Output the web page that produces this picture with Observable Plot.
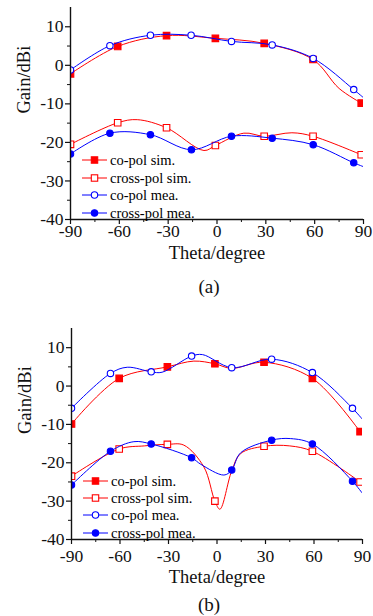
<!DOCTYPE html>
<html><head><meta charset="utf-8">
<script src="https://cdn.jsdelivr.net/npm/d3@7"></script>
<script src="https://cdn.jsdelivr.net/npm/@observablehq/plot@0.6"></script>
<style>
body{margin:0;background:#fff;}
#wrap{position:relative;width:373px;height:616px;font-family:"Liberation Serif","Times New Roman",serif;overflow:hidden;}
.panel{position:absolute;left:0;}
.legend{position:absolute;font-size:14.5px;color:#000;}
.legend .row{position:absolute;left:0;white-space:nowrap;height:16px;line-height:16px;display:flex;align-items:center;}
.legend svg{display:block;flex:none;}
.legend span{margin-left:3px;}
</style></head><body><div id="wrap"></div>
<script>
// ---- shared labels / ticks ----
const xTicks = [-90, -60, -30, 0, 30, 60, 90];
const xMinor = [-75, -45, -15, 15, 45, 75];
const yTicks = [10, 0, -10, -20, -30, -40];
const yMinor = [5, -5, -15, -25, -35];
const xDomain = [-90, 90];
const yDomain = [-40, 15];
const seriesNames = ["co-pol sim.", "cross-pol sim.", "co-pol mea.", "cross-pol mea."];
const xTitle = "Theta/degree";
const yTitle = "Gain/dBi";
const panelTags = ["(a)", "(b)"];

// ---- panel (a) ----
const aCoSimTheta   = [-90, -61, -31, -1, 29, 59, 75, 88.6];
const aCoSimGain    = [-2.2, 4.9, 7.7, 7.0, 5.7, 1.5, -6.0, -9.8];
const aCoSimMarks   = [-90, -61, -31, -1, 29, 59, 88.6];
const aCrossSimTheta= [-90, -61, -49, -31, -8, -1, 16.5, 29, 46, 59, 88.6];
const aCrossSimGain = [-20.5, -14.9, -14.1, -16.2, -22.1, -20.8, -17.6, -18.4, -17.5, -18.4, -23.2];
const aCrossSimMarks= [-90, -61, -31, -1, 29, 59, 88.6];
const aCoMeaTheta   = [-90, -65.8, -40.9, -15.9, 8.9, 33.9, 59.1, 84, 90];
const aCoMeaGain    = [-1.2, 5.1, 7.8, 7.8, 6.2, 5.3, 1.8, -6.3, -8.4];
const aCoMeaMarks   = [-90, -65.8, -40.9, -15.9, 8.9, 33.9, 59.1, 84];
const aCrossMeaTheta= [-90, -65.8, -40.9, -15.7, 8.9, 33.9, 59.1, 84, 90];
const aCrossMeaGain = [-23.0, -17.6, -18.0, -21.9, -18.4, -18.9, -20.6, -25.3, -26.3];
const aCrossMeaMarks= [-90, -65.8, -40.9, -15.7, 8.9, 33.9, 59.1, 84];

// ---- panel (b) ----
const bCoSimTheta   = [-90, -60.5, -30.7, -14.3, -1.3, 9, 29.1, 59, 88.5];
const bCoSimGain    = [-9.9, 2.0, 5.0, 6.5, 5.8, 4.6, 6.2, 2.0, -11.9];
const bCoSimMarks   = [-90, -60.5, -30.7, -1.3, 29.1, 59, 88.5];
const bCrossSimTheta= [-90, -60.5, -45, -30.7, -20.5, -8.1, -1.3, 1.8, 9.1, 14.6, 29.1, 45, 59, 88.5];
const bCrossSimGain = [-23.5, -16.4, -15.6, -15.2, -15.4, -21.1, -30.0, -32.1, -22.1, -17.6, -15.7, -15.6, -17.0, -25.0];
const bCrossSimMarks= [-90, -60.5, -30.7, -1.3, 29.1, 59, 88.5];
const bCoMeaTheta   = [-90, -65.9, -55.5, -40.7, -34, -15.7, -9, 9.1, 33.8, 59, 83.8, 90];
const bCoMeaGain    = [-5.8, 3.3, 4.9, 3.7, 3.6, 7.8, 8.2, 4.8, 7.0, 3.5, -5.8, -8.7];
const bCoMeaMarks   = [-90, -65.9, -40.7, -15.7, 9.1, 33.8, 59, 83.8];
const bCrossMeaTheta= [-90, -65.9, -51.4, -40.7, -15.7, -10, 4.3, 9.1, 14.6, 33.8, 45.6, 59, 83.8, 90];
const bCrossMeaGain = [-25.8, -17.0, -14.5, -15.1, -18.7, -20.4, -23.2, -21.9, -17.4, -14.1, -13.7, -15.1, -24.8, -28.0];
const bCrossMeaMarks= [-90, -65.9, -40.7, -15.7, 9.1, 33.8, 59, 83.8];

const RED = "#ff0000", BLUE = "#0000ff";
const seriesStyle = [
  {color: RED,  symbol: "square", fill: RED},
  {color: RED,  symbol: "square", fill: "#fff"},
  {color: BLUE, symbol: "circle", fill: "#fff"},
  {color: BLUE, symbol: "circle", fill: BLUE}
];

const panels = [
  {tag: panelTags[0], top: 0, height: 300, mt: 7, mb: 81, ml: 70, mr: 10, tickPad: 0, xLabDy: 34, tagDy: 67,
   series: [[aCoSimTheta, aCoSimGain, aCoSimMarks], [aCrossSimTheta, aCrossSimGain, aCrossSimMarks],
            [aCoMeaTheta, aCoMeaGain, aCoMeaMarks], [aCrossMeaTheta, aCrossMeaGain, aCrossMeaMarks]],
   legend: {top: 160, left: 82, gap: 17.5}},
  {tag: panelTags[1], top: 300, height: 316, mt: 28, mb: 77, ml: 71, mr: 11, tickPad: 5, xLabDy: 38, tagDy: 65,
   series: [[bCoSimTheta, bCoSimGain, bCoSimMarks], [bCrossSimTheta, bCrossSimGain, bCrossSimMarks],
            [bCoMeaTheta, bCoMeaGain, bCoMeaMarks], [bCrossMeaTheta, bCrossMeaGain, bCrossMeaMarks]],
   legend: {top: 480.7, left: 83, gap: 17.3}}
];

const wrap = document.getElementById("wrap");

for (const p of panels) {
  const marks = [];
  p.series.forEach(([th, g, mk], i) => {
    const s = seriesStyle[i];
    const line = th.map((t, j) => ({t, g: g[j]}));
    const dots = line.filter(d => mk.includes(d.t));
    marks.push(Plot.line(line, {x: "t", y: "g", curve: "catmull-rom", stroke: s.color, strokeWidth: 1, clip: true}));
    marks.push(Plot.dot(dots, {x: "t", y: "g", symbol: s.symbol, r: s.symbol === "square" ? 3.7 : 3.2,
      fill: s.fill, stroke: s.color, strokeWidth: 1.1, clip: true}));
  });
  const chart = Plot.plot({
    width: 373, height: p.height,
    marginTop: p.mt, marginBottom: p.mb, marginLeft: p.ml, marginRight: p.mr,
    style: {fontFamily: '"Liberation Serif","Times New Roman",serif', fontSize: "17.5px", color: "#111", background: "transparent", overflow: "visible"},
    x: {domain: xDomain},
    y: {domain: yDomain},
    marks: [
      ...marks,
      Plot.axisX({ticks: xTicks, tickSize: 5, tickPadding: p.tickPad, tickFormat: d => String(d), fontSize: 17.5, label: null, strokeWidth: 1.2}),
      Plot.axisX({ticks: xMinor, tickSize: 3, tickFormat: () => "", label: null, strokeWidth: 1}),
      Plot.axisY({ticks: yTicks, tickSize: 5, tickPadding: 2, tickFormat: d => String(d), fontSize: 17.5, label: null, strokeWidth: 1.2}),
      Plot.axisY({ticks: yMinor, tickSize: 3, tickFormat: () => "", label: null, strokeWidth: 1}),
      Plot.ruleX([xDomain[0]], {stroke: "#111", strokeWidth: 1.4}),
      Plot.ruleY([yDomain[0]], {stroke: "#111", strokeWidth: 1.4}),
      Plot.text([yTitle], {text: d => d, frameAnchor: "left", rotate: -90, dx: -46.5, fontSize: 18.5, lineAnchor: "middle"}),
      Plot.text([xTitle], {text: d => d, frameAnchor: "bottom", dy: p.xLabDy, fontSize: 18.5, lineAnchor: "middle"}),
      Plot.text([p.tag], {text: d => d, frameAnchor: "bottom", dx: -8, dy: p.tagDy, fontSize: 19, lineAnchor: "middle"})
    ]
  });
  const holder = document.createElement("div");
  holder.className = "panel";
  holder.style.top = p.top + "px";
  holder.appendChild(chart);
  wrap.appendChild(holder);

  // legend overlay
  const lg = document.createElement("div");
  lg.className = "legend";
  lg.style.left = p.legend.left + "px";
  lg.style.top = (p.legend.top - 8) + "px";
  seriesNames.forEach((name, i) => {
    const s = seriesStyle[i];
    const sym = s.symbol === "square"
      ? `<rect x="9.3" y="4.8" width="6.4" height="6.4" fill="${s.fill}" stroke="${s.color}" stroke-width="1.1"/>`
      : `<circle cx="12.5" cy="8" r="3.2" fill="${s.fill}" stroke="${s.color}" stroke-width="1.1"/>`;
    const row = document.createElement("div");
    row.className = "row";
    row.style.top = (i * p.legend.gap) + "px";
    row.innerHTML = `<svg width="25" height="16"><line x1="0" x2="25" y1="8" y2="8" stroke="${s.color}" stroke-width="1"/>${sym}</svg><span>${name}</span>`;
    lg.appendChild(row);
  });
  wrap.appendChild(lg);
}
</script></body></html>
